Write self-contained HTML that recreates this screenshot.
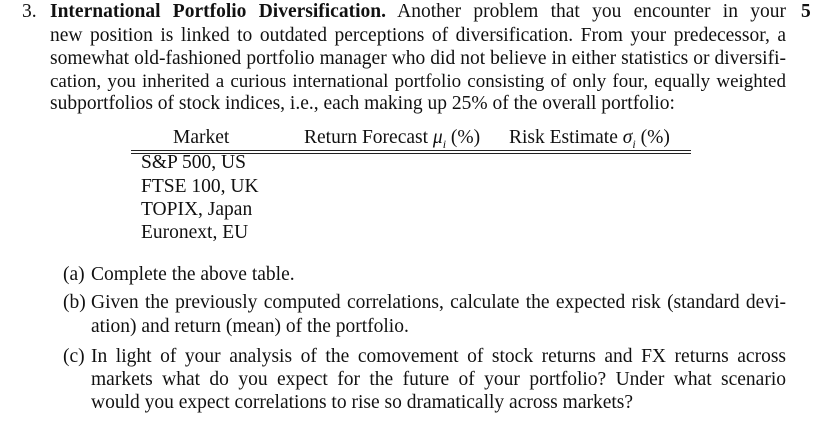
<!DOCTYPE html>
<html><head><meta charset="utf-8"><style>
body{margin:0;width:814px;height:433px;background:#fff;overflow:hidden;position:relative;font-family:"Liberation Serif",serif;font-size:19.5px;color:#111}
.l{position:absolute;line-height:23px;white-space:nowrap}
.j{text-align:justify;text-align-last:justify;white-space:normal;height:23px;overflow:hidden}
b{font-weight:bold}
</style></head><body>
<div class="l" style="left:22px;top:0">3.</div>
<div class="l j" style="left:50px;top:0;width:736px"><b>International Portfolio Diversification.</b> Another problem that you encounter in your</div>
<div class="l" style="left:801px;top:0"><b>5</b></div>
<div class="l j" style="left:50px;top:24px;width:736px">new position is linked to outdated perceptions of diversification. From your predecessor, a</div>
<div class="l j" style="left:50px;top:47px;width:736px">somewhat old-fashioned portfolio manager who did not believe in either statistics or diversifi-</div>
<div class="l j" style="left:50px;top:70px;width:736px;word-spacing:-3px;font-size:19px">cation, you inherited a curious international portfolio consisting of only four, equally weighted</div>
<div class="l" style="left:50px;top:92px">subportfolios of stock indices, i.e., each making up 25% of the overall portfolio:</div>

<div class="l" style="left:173px;top:126px">Market</div>
<div class="l" style="left:304px;top:126px">Return Forecast <i>μ<sub style="font-size:12px">i</sub></i> (%)</div>
<div class="l" style="left:509px;top:126px">Risk Estimate <i>σ<sub style="font-size:12px">i</sub></i> (%)</div>
<div style="position:absolute;left:131px;top:150px;width:560px;height:0;border-top:1px solid #222;"></div>
<div style="position:absolute;left:131px;top:153px;width:560px;height:0;border-top:1px solid #222;"></div>
<div class="l" style="left:141px;top:151px">S&amp;P 500, US</div>
<div class="l" style="left:141px;top:175px">FTSE 100, UK</div>
<div class="l" style="left:141px;top:198px">TOPIX, Japan</div>
<div class="l" style="left:141px;top:221px">Euronext, EU</div>

<div class="l" style="left:63px;top:263px">(a)</div>
<div class="l" style="left:91px;top:263px">Complete the above table.</div>
<div class="l" style="left:63px;top:291px">(b)</div>
<div class="l j" style="left:91px;top:291px;width:695px">Given the previously computed correlations, calculate the expected risk (standard devi-</div>
<div class="l" style="left:91px;top:315px">ation) and return (mean) of the portfolio.</div>
<div class="l" style="left:63px;top:345px">(c)</div>
<div class="l j" style="left:91px;top:345px;width:695px">In light of your analysis of the comovement of stock returns and FX returns across</div>
<div class="l j" style="left:91px;top:368px;width:695px">markets what do you expect for the future of your portfolio? Under what scenario</div>
<div class="l" style="left:91px;top:391px">would you expect correlations to rise so dramatically across markets?</div>
</body></html>
